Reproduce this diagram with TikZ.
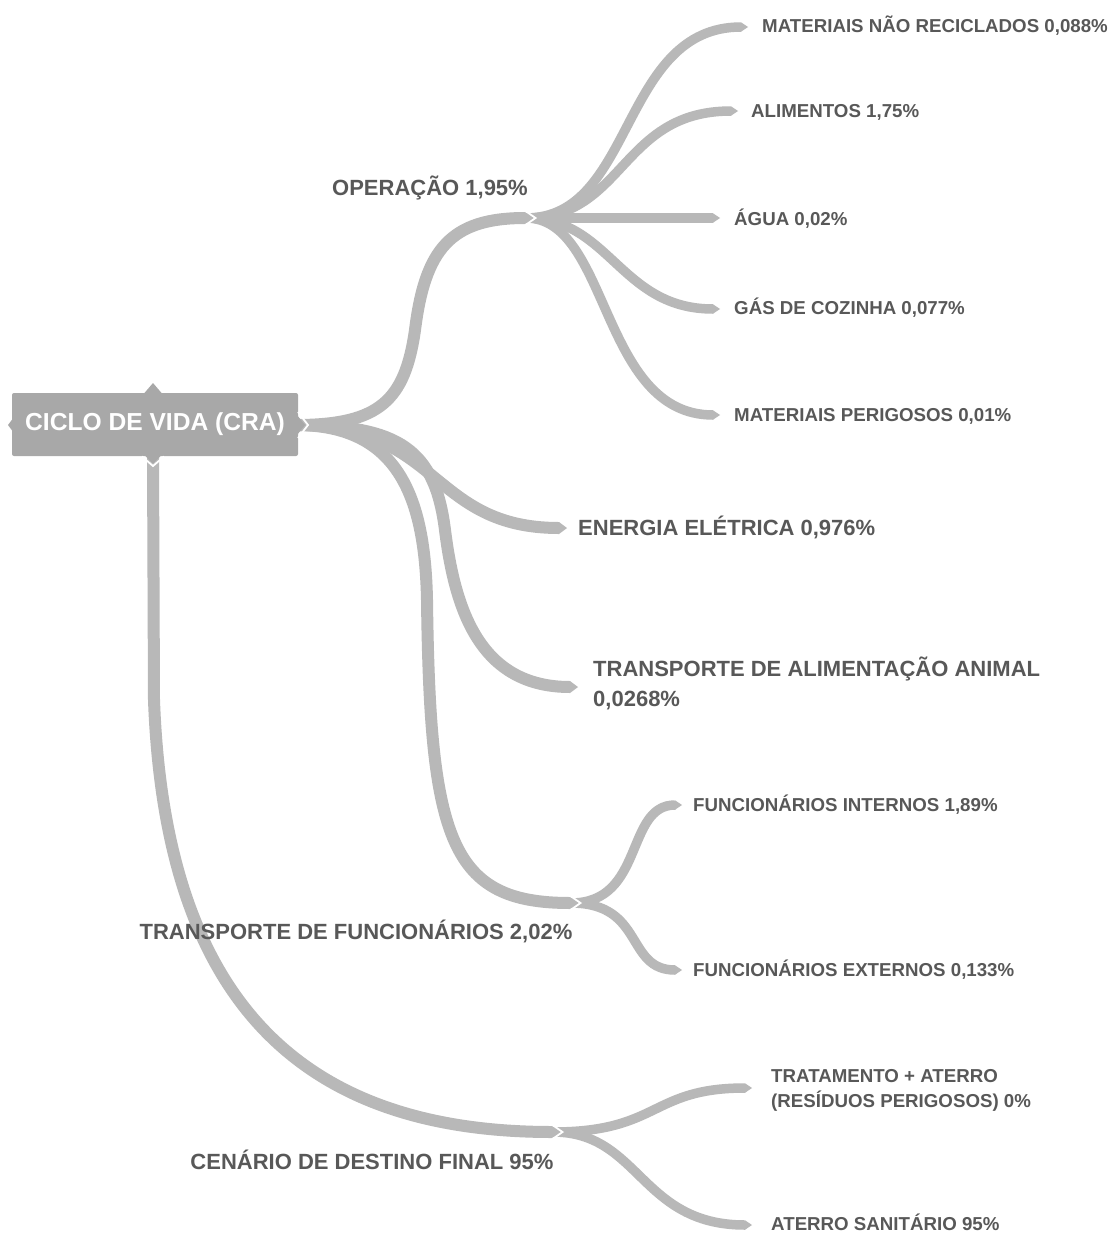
\documentclass[tikz,border=0pt]{standalone}
\usepackage{fontspec}
\setmainfont{Liberation Sans}
\usetikzlibrary{arrows.meta}
\definecolor{br}{HTML}{B8B8B8}
\definecolor{rootc}{HTML}{A8A8A8}
\definecolor{txt}{HTML}{585858}
\tikzset{
  chevcut/.pic={\draw[white,line width=1.8pt] (-11,-9.5) -- (2.5,0) -- (-11,9.5);}
}
\begin{document}
\begin{tikzpicture}[x=1pt,y=-1pt,
  lvone/.style={draw=br, line width=12pt, line cap=butt, -{Triangle[length=8pt,width=12pt,line width=0pt]}},
  lvtwo/.style={draw=br, line width=9.5pt, line cap=butt, -{Triangle[length=7pt,width=9.5pt,line width=0pt]}},
  lab/.style={anchor=base west, text=txt, font=\bfseries\fontsize{18.7}{25}\selectfont, inner sep=0pt, align=left},
  labone/.style={anchor=base, text=txt, font=\bfseries\fontsize{22}{30}\selectfont, inner sep=0pt, align=left},
  rootbox/.style={fill=rootc, text=white, minimum width=286pt, minimum height=63pt, rounded corners=2pt, inner sep=0pt, font=\bfseries\fontsize{24.6}{28}\selectfont},
]
\fill[white] (0,0) rectangle (1119,1234);
\useasboundingbox (0,0) rectangle (1119,1234);

% junction and end coordinates
\coordinate (rs) at (296,425);
\coordinate (rb) at (153,456);
\coordinate (opJ) at (533,218);  \coordinate (opS) at (526,218);
\coordinate (tfJ) at (578,903);  \coordinate (tfS) at (571,903);
\coordinate (cdJ) at (560,1132); \coordinate (cdS) at (553,1132);
\coordinate (enT) at (567,528);
\coordinate (taT) at (578,687);
\coordinate (mnrT) at (748,27);
\coordinate (aliT) at (738,111);
\coordinate (aguT) at (720,218);
\coordinate (gasT) at (720,309);
\coordinate (mpT) at (720,415);
\coordinate (fiT) at (682,805);
\coordinate (feT) at (682,970);
\coordinate (trT) at (752,1088);
\coordinate (asT) at (752,1225);

% second-level branches
\draw[lvtwo] (opS) .. controls (635,218) and (620,27) .. (mnrT);
\draw[lvtwo] (opS) .. controls (625,218) and (620,111) .. (aliT);
\draw[lvtwo] (opS) -- (aguT);
\draw[lvtwo] (opS) .. controls (610,218) and (620,309) .. (gasT);
\draw[lvtwo] (opS) .. controls (610,218) and (600,415) .. (mpT);
\draw[lvtwo] (tfS) .. controls (645,903) and (625,805) .. (fiT);
\draw[lvtwo] (tfS) .. controls (645,903) and (625,970) .. (feT);
\draw[lvtwo] (cdS) .. controls (660,1132) and (650,1088) .. (trT);
\draw[lvtwo] (cdS) .. controls (640,1132) and (640,1225) .. (asT);

% first-level branches
\draw[lvone] (rs) .. controls (380,425) and (405,400) .. (415,330) .. controls (425,250) and (450,218) .. (opJ);
\draw[lvone] (rs) .. controls (440,425) and (430,528) .. (enT);
\draw[lvone] (rs) .. controls (400,425) and (435,450) .. (445,530) .. controls (455,610) and (480,687) .. (taT);
\draw[lvone] (rs) .. controls (400,425) and (425,500) .. (427,600) .. controls (430,840) and (450,903) .. (tfJ);
\draw[lvone] (rb) -- (154,700) .. controls (165,1000) and (300,1132) .. (cdJ);

% junction notches
\pic at (opJ) {chevcut};
\pic at (tfJ) {chevcut};
\pic at (cdJ) {chevcut};

% root
\node[rootbox] (root) at (155,424.5) {CICLO DE VIDA (CRA)};
\fill[rootc] (297,415) -- (305,425) -- (297,435) -- cycle;
\fill[rootc] (144,393.5) -- (153,383) -- (162,393.5) -- cycle;
\fill[rootc] (145,455.5) -- (153,463.5) -- (161,455.5) -- cycle;
\fill[rootc] (12.5,419) -- (8,425) -- (12.5,431) -- cycle;
\draw[white,line width=1.8pt] (298,412) -- (308,425) -- (298,438);
\draw[white,line width=1.8pt] (142,456.5) -- (153,466) -- (164,456.5);

% labels
\node[lab] (mnr) at (762,32.7) {MATERIAIS NÃO RECICLADOS 0,088\%};
\node[lab] (ali) at (751,117.7) {ALIMENTOS 1,75\%};
\node[lab] (agu) at (734,225.7) {ÁGUA 0,02\%};
\node[lab] (gas) at (734,314.7) {GÁS DE COZINHA 0,077\%};
\node[lab] (mp) at (734,421.7) {MATERIAIS PERIGOSOS 0,01\%};
\node[labone, anchor=base west] (en) at (578,535.9) {ENERGIA ELÉTRICA 0,976\%};
\node[labone, anchor=base west] (ta) at (593,706.9) {TRANSPORTE DE ALIMENTAÇÃO ANIMAL\\0,0268\%};
\node[labone] (op) at (430,195.9) {OPERAÇÃO 1,95\%};
\node[lab] (fi) at (693,811.7) {FUNCIONÁRIOS INTERNOS 1,89\%};
\node[lab] (fe) at (693,976.7) {FUNCIONÁRIOS EXTERNOS 0,133\%};
\node[lab] (tr) at (771,1107.7) {TRATAMENTO + ATERRO\\(RESÍDUOS PERIGOSOS) 0\%};
\node[lab] (as) at (771,1230.7) {ATERRO SANITÁRIO 95\%};
\node[labone] (cd) at (372,1169.9) {CENÁRIO DE DESTINO FINAL 95\%};
\node[labone] (tf) at (356,939.9) {TRANSPORTE DE FUNCIONÁRIOS 2,02\%};
\end{tikzpicture}
\end{document}
